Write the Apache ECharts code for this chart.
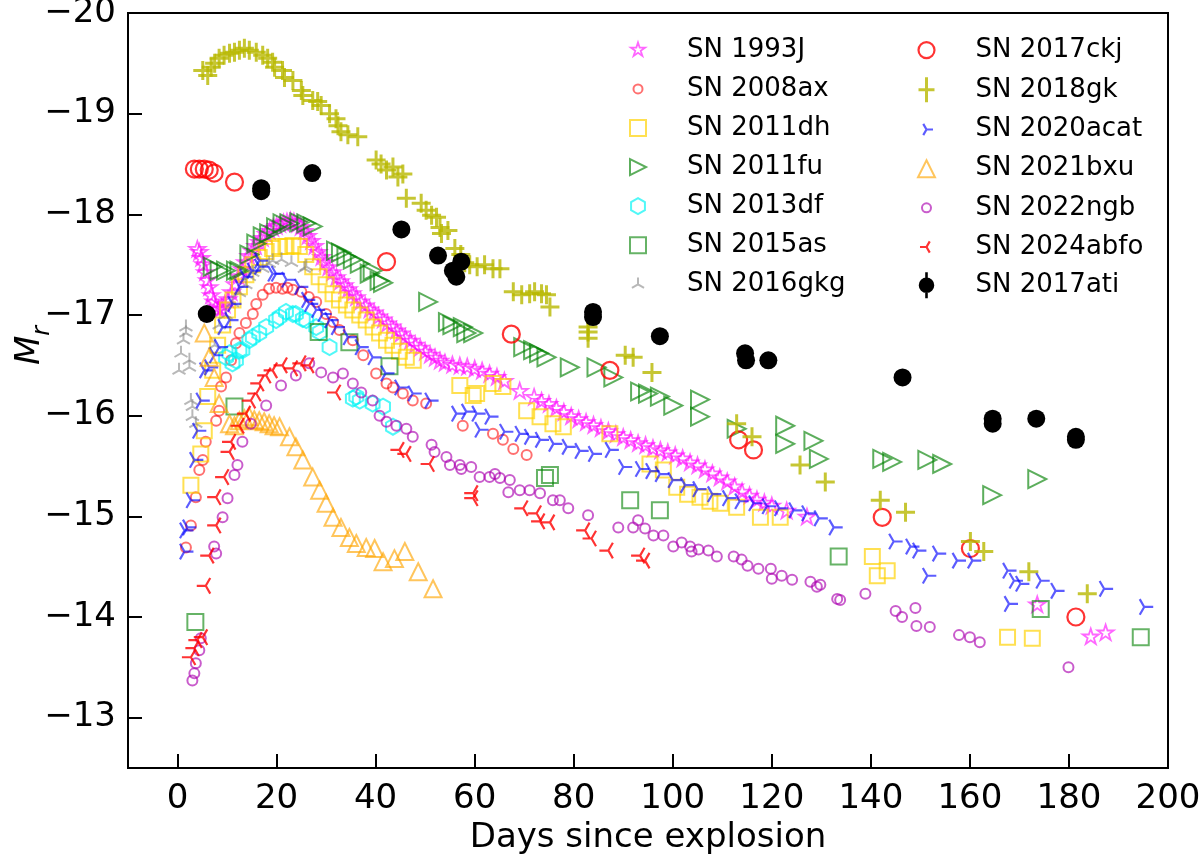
<!DOCTYPE html>
<html>
<head>
<meta charset="utf-8">
<script src="https://cdn.jsdelivr.net/npm/echarts@6/dist/echarts.min.js"></script>
<style>
  html, body { margin: 0; padding: 0; background: #fff; }
  #chart { width: 1200px; height: 857px; }
</style>
</head>
<body>
<div id="chart"></div>
<script>
// light curves, [days since explosion, M_r]
const sn1993J = [[4.0,-17.65],[4.4,-17.62],[4.8,-17.56],[5.2,-17.50],[5.6,-17.42],[6.0,-17.34],[6.4,-17.27],[6.8,-17.19],[7.3,-17.13],[7.8,-17.08],
  [8.3,-17.05],[8.9,-17.06],[9.5,-17.10],[10.2,-17.15],[10.9,-17.22],[11.6,-17.30],[12.3,-17.38],[13.0,-17.45],[13.7,-17.52],[14.4,-17.58],
  [15.1,-17.63],[15.8,-17.68],[16.5,-17.72],[17.2,-17.76],[17.9,-17.80],[18.6,-17.83],[19.3,-17.86],[20.0,-17.88],[20.7,-17.90],[21.4,-17.91],
  [22.1,-17.92],[22.8,-17.93],[23.5,-17.92],[24.2,-17.90],[24.9,-17.87],[25.6,-17.83],[26.3,-17.78],[27.0,-17.73],[27.7,-17.68],[28.4,-17.62],
  [29.1,-17.57],[29.8,-17.52],[30.5,-17.47],[31.3,-17.42],[32.1,-17.37],[32.9,-17.33],[33.7,-17.29],[34.5,-17.25],[35.3,-17.21],[36.1,-17.17],
  [37.0,-17.13],[37.9,-17.09],[38.8,-17.05],[39.7,-17.02],[40.6,-16.98],[41.5,-16.95],[42.4,-16.91],[43.3,-16.88],[44.2,-16.84],[45.1,-16.81],
  [46.0,-16.77],[47.0,-16.74],[48.0,-16.70],[49.0,-16.67],[50.0,-16.63],[51.0,-16.60],[52.0,-16.57],[53.0,-16.54],[54.0,-16.52],[55.5,-16.50],
  [57.0,-16.49],[58.5,-16.48],[60.0,-16.46],[61.5,-16.44],[63.0,-16.41],[64.5,-16.38],[66.0,-16.34],[69.1,-16.24],[72.0,-16.18],[73.5,-16.14],
  [75.0,-16.11],[76.5,-16.07],[78.0,-16.03],[79.5,-15.99],[81.0,-15.96],[82.5,-15.93],[84.0,-15.90],[85.5,-15.87],[87.0,-15.84],[88.5,-15.81],
  [90.0,-15.78],[91.5,-15.75],[93.0,-15.72],[94.5,-15.70],[96.0,-15.67],[97.5,-15.65],[99.0,-15.63],[100.5,-15.60],[102.0,-15.57],[103.5,-15.53],
  [105.0,-15.50],[106.5,-15.46],[108.0,-15.42],[109.5,-15.38],[111.0,-15.34],[112.5,-15.29],[114.0,-15.24],[115.5,-15.20],[117.0,-15.16],[118.5,-15.13],
  [120.0,-15.10],[123.0,-15.05],[127.1,-14.99],[173.6,-14.12],[184.4,-13.80],[187.4,-13.84]];
const sn2008ax = [[1.7,-14.69],[2.7,-14.91],[3.7,-15.19],[4.4,-15.46],[5.1,-15.56],[5.7,-15.74],[7.8,-15.95],[8.4,-16.05],[8.8,-16.29],[9.8,-16.38],
  [10.8,-16.55],[11.8,-16.72],[12.5,-16.82],[13.8,-16.92],[15.2,-17.01],[15.9,-17.11],[17.2,-17.20],[18.5,-17.26],[19.9,-17.27],[21.2,-17.26],
  [22.2,-17.27],[23.3,-17.25],[25.0,-17.23],[26.5,-17.18],[28.0,-17.13],[30.0,-17.01],[31.4,-16.93],[32.7,-16.85],[35.4,-16.75],[37.5,-16.60],
  [40.1,-16.42],[42.2,-16.32],[43.5,-16.28],[45.5,-16.22],[47.5,-16.15],[50.2,-16.12],[57.6,-15.90],[63.7,-15.82],[65.7,-15.76],[67.8,-15.67],[70.5,-15.61]];
const sn2011dh = [[2.7,-15.31],[4.7,-15.62],[5.4,-15.85],[6.1,-16.19],[7.1,-16.45],[8.1,-16.70],[9.1,-16.90],[10.1,-17.05],[11.2,-17.15],[12.5,-17.28],
  [13.8,-17.40],[15.2,-17.50],[16.5,-17.57],[17.9,-17.63],[19.2,-17.66],[20.6,-17.68],[21.9,-17.68],[23.3,-17.69],[24.6,-17.68],[25.9,-17.60],
  [27.3,-17.48],[28.6,-17.38],[30.0,-17.30],[31.4,-17.21],[32.7,-17.15],[34.1,-17.10],[35.4,-17.05],[36.8,-17.00],[38.1,-16.95],[39.5,-16.88],
  [40.8,-16.82],[42.2,-16.75],[43.5,-16.70],[44.8,-16.64],[46.2,-16.58],[47.6,-16.55],[57.0,-16.30],[59.7,-16.20],[60.4,-16.22],[63.7,-16.32],
  [65.7,-16.29],[70.5,-16.05],[73.2,-15.99],[75.8,-15.92],[77.9,-15.89],[87.3,-15.82],[95.4,-15.52],[98.1,-15.46],[100.8,-15.29],[103.0,-15.22],
  [105.5,-15.19],[107.5,-15.15],[109.6,-15.13],[112.9,-15.09],[117.7,-14.99],[121.7,-14.99],[140.3,-14.60],[141.3,-14.41],[143.3,-14.46],[167.6,-13.80],[172.6,-13.79]];
const sn2011fu = [[7.1,-17.48],[8.5,-17.44],[9.8,-17.44],[11.8,-17.44],[12.5,-17.44],[14.5,-17.60],[15.9,-17.71],[17.2,-17.78],[18.5,-17.81],[19.9,-17.87],
  [21.2,-17.91],[22.6,-17.91],[24.6,-17.92],[26.0,-17.91],[27.3,-17.88],[32.0,-17.64],[33.0,-17.62],[34.1,-17.58],[35.4,-17.55],[36.8,-17.51],
  [38.8,-17.41],[39.4,-17.44],[40.8,-17.34],[41.5,-17.32],[50.6,-17.13],[54.6,-16.93],[55.5,-16.90],[57.6,-16.88],[58.3,-16.82],[59.7,-16.82],
  [69.8,-16.68],[71.8,-16.65],[73.0,-16.62],[74.5,-16.58],[79.2,-16.48],[84.6,-16.48],[88.0,-16.38],[93.4,-16.24],[95.0,-16.22],[97.4,-16.19],
  [100.1,-16.10],[105.5,-16.16],[105.5,-15.99],[112.9,-15.87],[122.7,-15.90],[122.7,-15.72],[128.4,-15.75],[129.5,-15.57],[142.3,-15.57],[144.3,-15.54],
  [151.4,-15.56],[154.4,-15.52],[164.5,-15.21],[173.6,-15.37]];
const sn2013df = [[9.8,-16.58],[10.5,-16.62],[11.1,-16.52],[11.8,-16.55],[12.5,-16.65],[13.1,-16.65],[14.5,-16.75],[15.2,-16.78],[16.5,-16.82],[17.9,-16.88],
  [19.9,-16.95],[20.6,-16.98],[21.9,-17.03],[23.3,-17.01],[23.9,-17.01],[25.3,-16.96],[26.0,-16.95],[28.0,-16.88],[28.7,-16.83],[30.7,-16.68],
  [35.4,-16.17],[36.1,-16.19],[36.8,-16.15],[39.4,-16.12],[41.5,-16.09],[43.5,-15.89]];
const sn2015as = [[3.6,-13.95],[11.5,-16.09],[28.5,-16.83],[34.7,-16.73],[42.8,-16.49],[74.2,-15.38],[75.2,-15.41],[91.4,-15.16],[97.4,-15.06],
  [133.5,-14.60],[174.3,-14.08],[194.5,-13.80]];
const sn2016gkg = [[0.3,-16.45],[0.7,-16.62],[1.2,-16.75],[1.7,-16.82],[1.7,-16.88],[2.4,-16.48],[2.4,-16.55],[2.7,-16.15],[3.0,-16.09],[3.0,-15.99],
  [3.7,-15.92],[7.5,-16.70],[8.4,-16.90],[9.8,-17.00],[11.1,-17.12],[12.5,-17.22],[13.8,-17.30],[14.5,-17.38],[15.2,-17.42],[17.2,-17.46],
  [18.5,-17.51],[19.2,-17.54],[21.0,-17.55],[23.0,-17.52],[25.6,-17.46],[26.0,-17.48]];
const sn2017ckj = [[3.4,-18.45],[4.4,-18.45],[5.4,-18.45],[6.4,-18.44],[7.4,-18.41],[11.5,-18.32],[42.2,-17.53],[67.4,-16.81],[87.3,-16.45],
  [113.3,-15.76],[116.3,-15.66],[142.3,-14.99],[160.1,-14.68],[181.4,-14.00]];
const sn2018gk = [[5.1,-19.43],[6.1,-19.38],[6.8,-19.46],[7.5,-19.50],[8.4,-19.55],[9.4,-19.58],[10.5,-19.60],[11.5,-19.61],[12.5,-19.63],[13.5,-19.65],
  [14.5,-19.63],[15.9,-19.61],[17.2,-19.58],[18.2,-19.55],[19.2,-19.51],[19.6,-19.46],[21.2,-19.43],[21.6,-19.36],[23.3,-19.33],[25.0,-19.23],
  [25.3,-19.18],[27.3,-19.13],[28.3,-19.12],[29.0,-19.08],[30.7,-19.00],[32.0,-18.95],[32.4,-18.88],[33.0,-18.82],[34.4,-18.79],[36.4,-18.77],
  [40.1,-18.54],[41.1,-18.50],[42.2,-18.44],[43.5,-18.47],[44.5,-18.37],[45.5,-18.40],[46.2,-18.16],[49.2,-18.11],[50.2,-18.04],[51.3,-17.99],
  [52.3,-17.97],[53.0,-17.87],[53.3,-17.81],[54.6,-17.84],[56.0,-17.66],[57.2,-17.60],[58.0,-17.52],[59.0,-17.50],[60.5,-17.48],[62.0,-17.50],
  [63.7,-17.46],[65.1,-17.46],[67.8,-17.23],[69.5,-17.20],[71.1,-17.21],[72.1,-17.23],[73.5,-17.21],[74.5,-17.20],[75.2,-17.08],[82.9,-16.88],
  [82.9,-16.83],[82.9,-16.77],[90.4,-16.60],[92.0,-16.58],[95.8,-16.43],[112.9,-15.92],[116.0,-15.79],[125.7,-15.51],[130.8,-15.34],[141.9,-15.16],
  [147.0,-15.04],[160.1,-14.75],[162.8,-14.65],[171.9,-14.45],[183.7,-14.23]];
const sn2020acat = [[1.4,-14.65],[1.4,-14.86],[2.0,-14.89],[2.7,-15.16],[3.4,-15.56],[4.0,-15.85],[4.7,-16.15],[5.4,-16.45],[6.4,-16.48],[7.4,-16.60],
  [8.4,-16.68],[9.1,-16.88],[10.5,-16.95],[11.1,-17.11],[12.5,-17.28],[13.5,-17.38],[15.0,-17.44],[16.5,-17.48],[16.5,-17.54],[19.2,-17.41],
  [19.9,-17.41],[22.0,-17.35],[24.6,-17.28],[26.0,-17.15],[26.6,-17.11],[28.0,-17.05],[29.3,-17.01],[30.7,-16.95],[32.0,-16.88],[34.4,-16.78],
  [36.8,-16.68],[39.4,-16.58],[42.0,-16.42],[44.8,-16.28],[47.5,-16.22],[50.9,-16.15],[56.3,-16.02],[58.3,-16.04],[60.4,-16.02],[61.0,-15.86],
  [63.0,-15.99],[66.0,-15.84],[69.1,-15.82],[71.0,-15.79],[73.2,-15.76],[75.9,-15.72],[78.6,-15.69],[81.2,-15.65],[83.9,-15.62],[87.3,-15.66],
  [90.0,-15.49],[93.4,-15.47],[95.5,-15.45],[97.4,-15.42],[100.0,-15.36],[102.5,-15.31],[105.0,-15.27],[108.0,-15.22],[111.0,-15.18],[113.5,-15.15],
  [116.3,-15.13],[119.0,-15.10],[121.5,-15.08],[124.4,-15.06],[127.0,-15.03],[129.5,-14.98],[132.5,-14.89],[144.6,-14.75],[148.0,-14.70],[149.4,-14.66],
  [151.4,-14.41],[153.4,-14.63],[157.4,-14.56],[160.5,-14.56],[167.6,-14.46],[167.9,-14.13],[168.9,-14.36],[170.2,-14.33],[174.3,-14.36],[177.3,-14.26],
  [187.1,-14.28],[195.2,-14.10]];
const sn2021bxu = [[5.4,-16.82],[6.4,-16.58],[7.4,-16.38],[8.4,-16.12],[10.5,-15.92],[11.5,-15.90],[12.5,-15.95],[13.5,-15.97],[14.5,-15.99],[15.5,-15.96],
  [16.5,-15.95],[17.5,-15.94],[18.5,-15.92],[19.5,-15.90],[20.6,-15.89],[22.6,-15.79],[23.9,-15.69],[25.3,-15.56],[27.3,-15.39],[28.7,-15.26],
  [30.0,-15.13],[31.4,-14.99],[33.0,-14.89],[34.7,-14.79],[36.1,-14.73],[38.1,-14.69],[39.8,-14.68],[41.5,-14.55],[43.8,-14.58],[45.9,-14.65],
  [48.6,-14.45],[51.6,-14.28]];
const sn2022ngb = [[3.0,-13.37],[3.4,-13.44],[3.7,-13.54],[4.4,-13.67],[4.7,-13.79],[7.4,-14.70],[7.8,-14.63],[9.1,-14.99],[10.1,-15.18],[11.5,-15.41],
  [12.1,-15.51],[13.1,-15.74],[14.8,-15.92],[17.9,-16.10],[20.9,-16.30],[23.9,-16.40],[26.6,-16.52],[29.0,-16.43],[31.4,-16.38],[33.4,-16.42],
  [35.4,-16.32],[37.1,-16.23],[39.4,-16.15],[40.8,-16.00],[42.2,-15.94],[44.2,-15.90],[46.2,-15.87],[47.5,-15.79],[51.3,-15.71],[51.9,-15.64],
  [54.3,-15.59],[55.0,-15.51],[57.0,-15.51],[57.3,-15.47],[59.3,-15.49],[61.0,-15.39],[63.0,-15.39],[64.1,-15.42],[65.1,-15.38],[66.8,-15.24],
  [67.1,-15.36],[69.1,-15.26],[71.1,-15.26],[73.2,-15.23],[75.8,-15.16],[77.2,-15.16],[78.9,-15.08],[82.9,-15.01],[89.0,-14.89],[92.0,-14.89],
  [93.0,-14.96],[94.4,-14.88],[96.1,-14.81],[98.1,-14.81],[100.1,-14.70],[101.8,-14.74],[103.5,-14.70],[103.8,-14.65],[105.2,-14.67],[107.2,-14.66],
  [108.9,-14.60],[112.3,-14.60],[113.9,-14.57],[115.1,-14.51],[117.3,-14.48],[119.8,-14.48],[120.0,-14.38],[122.0,-14.41],[124.1,-14.37],[127.8,-14.35],
  [129.1,-14.30],[129.8,-14.32],[133.2,-14.18],[133.8,-14.17],[138.9,-14.23],[145.0,-14.06],[146.3,-14.00],[149.0,-14.09],[149.2,-13.91],[151.9,-13.90],
  [157.8,-13.82],[160.0,-13.80],[162.0,-13.75],[179.9,-13.50]];
const sn2024abfo = [[2.7,-13.60],[3.4,-13.69],[4.0,-13.77],[5.1,-13.80],[5.7,-14.31],[6.4,-14.61],[7.8,-14.91],[7.8,-15.19],[9.4,-15.39],[10.5,-15.64],
  [10.8,-15.74],[12.5,-15.90],[13.8,-16.02],[14.8,-16.15],[15.9,-16.22],[16.5,-16.32],[17.9,-16.40],[19.2,-16.45],[21.2,-16.50],[23.3,-16.47],
  [25.0,-16.52],[26.6,-16.50],[32.0,-16.23],[44.8,-15.66],[46.2,-15.62],[50.9,-15.52],[59.7,-15.23],[59.7,-15.18],[69.8,-15.08],[72.5,-15.03],
  [73.2,-14.95],[75.2,-14.94],[82.3,-14.86],[83.6,-14.78],[87.0,-14.66],[93.4,-14.61],[94.4,-14.56]];
const sn2017ati = [[5.9,-17.01],[16.9,-18.26],[16.9,-18.23],[27.2,-18.41],[45.2,-17.85],[52.6,-17.59],[55.6,-17.44],[56.3,-17.38],[57.3,-17.53],
  [83.9,-17.03],[83.9,-16.98],[97.4,-16.79],[114.6,-16.62],[114.8,-16.55],[119.3,-16.55],[146.4,-16.38],[164.6,-15.97],[164.6,-15.92],
  [173.4,-15.97],[181.4,-15.79],[181.4,-15.76]];

const FONT = 'DejaVu Sans';

// marker outlines in a -1..1 box
const STAR = 'M0,-1 L0.2245,-0.309 L0.951,-0.309 L0.363,0.118 L0.588,0.809 L0,0.382 L-0.588,0.809 L-0.363,0.118 L-0.951,-0.309 L-0.2245,-0.309 Z';
const CIRC = 'M-1,0 A1,1 0 1,1 1,0 A1,1 0 1,1 -1,0 Z';
const SQR = 'M-1,-1 L1,-1 L1,1 L-1,1 Z';
const TRI_R = 'M1,0 L-1,1 L-1,-1 Z';
const TRI_U = 'M0,-1 L1,1 L-1,1 Z';
const HEX = 'M0,-1 L0.866,-0.5 L0.866,0.5 L0,1 L-0.866,0.5 L-0.866,-0.5 Z';
const Y_UP = 'M0,0 L0,-1 M0,0 L-0.866,0.5 M0,0 L0.866,0.5';
const Y_RIGHT = 'M0,0 L1,0 M0,0 L-0.5,0.866 M0,0 L-0.5,-0.866';
const Y_LEFT = 'M0,0 L-1,0 M0,0 L0.5,0.866 M0,0 L0.5,-0.866';
const PLUS = 'M-1,0 L1,0 M0,-1 L0,1';
const PLUS_TALL = 'M-0.64,0 L0.64,0 M0,-1 L0,1';
const DOT_BAR = 'M-0.1,-1 L0.1,-1 L0.1,1 L-0.1,1 Z M-0.6,0 A0.6,0.6 0 1,1 0.6,0 A0.6,0.6 0 1,1 -0.6,0 Z';

// pad the path box so every marker stays centred
function sym(p, r) {
  r = r || 1;
  return 'path://M' + (-r) + ',' + (-r) + ' M' + r + ',' + r + ' ' + p;
}

const list = [
  // name, data, shape, size, colour, filled, line width, legend pad
  ['SN 1993J', sn1993J, STAR, 17, 'rgba(255,0,255,0.75)', false, 1.8, 1.87],
  ['SN 2008ax', sn2008ax, CIRC, 10, 'rgba(255,0,0,0.7)', false, 2, 3.1],
  ['SN 2011dh', sn2011dh, SQR, 15, 'rgba(255,210,0,0.85)', false, 2, 1.75],
  ['SN 2011fu', sn2011fu, TRI_R, 18, 'rgba(0,128,0,0.8)', false, 2, 1.75],
  ['SN 2013df', sn2013df, HEX, 16, 'rgba(0,245,245,0.85)', false, 2, 1.75],
  ['SN 2015as', sn2015as, SQR, 16, 'rgba(0,128,0,0.75)', false, 2, 1.75],
  ['SN 2016gkg', sn2016gkg, Y_UP, 15, 'rgba(128,128,128,0.7)', false, 2, 2.0],
  ['SN 2017ckj', sn2017ckj, CIRC, 17, '#ff0000', false, 2.2, 1.75],
  ['SN 2018gk', sn2018gk, PLUS, 19, '#b8b800', false, 3, 1.12],
  ['SN 2020acat', sn2020acat, Y_RIGHT, 18, 'rgba(0,0,255,0.8)', false, 2.2, 2.15],
  ['SN 2021bxu', sn2021bxu, TRI_U, 17, 'rgba(255,165,0,0.8)', false, 2, 1.65],
  ['SN 2022ngb', sn2022ngb, CIRC, 10, 'rgba(170,0,175,0.8)', false, 2, 3.1],
  ['SN 2024abfo', sn2024abfo, Y_LEFT, 18, '#ff0000', false, 2.2, 2.15],
  ['SN 2017ati', sn2017ati, CIRC, 18, '#000000', true, 0, 1.08]
];

const series = list.map(s => ({
  name: s[0],
  type: 'scatter',
  data: s[1],
  symbol: sym(s[2]),
  symbolSize: s[3],
  itemStyle: s[5] ? { color: s[4], opacity: 1 } : { color: 'transparent', borderColor: s[4], borderWidth: s[6] },
  emphasis: { disabled: true },
  silent: true
}));

function legendItems(from, to) {
  return list.slice(from, to).map(s => {
    let p = s[2];
    if (s[0] === 'SN 2018gk') p = PLUS_TALL;
    if (s[0] === 'SN 2017ati') p = DOT_BAR;
    return { name: s[0], icon: sym(p, s[7]), itemStyle: { borderWidth: s[5] ? 0 : s[6] } };
  });
}

// legend content starts at the icon's left edge (icon box is 28 wide)
const legendBase = {
  orient: 'vertical', top: 35, itemWidth: 88, itemHeight: 28, itemGap: 9.1,
  padding: 0, selectedMode: false,
  textStyle: { fontFamily: FONT, fontSize: 26, color: '#000', lineHeight: 28 }
};

const chart = echarts.init(document.getElementById('chart'));
chart.setOption({
  animation: false,
  backgroundColor: '#fff',
  grid: { left: 128, right: 32, top: 13, bottom: 89, show: true, borderColor: '#000', borderWidth: 2,
    outerBoundsMode: 'none', containLabel: false },
  legend: [
    Object.assign({}, legendBase, { left: 623, data: legendItems(0, 7) }),
    Object.assign({}, legendBase, { left: 911, data: legendItems(7, 14) })
  ],
  xAxis: {
    type: 'value', min: -10, max: 200, splitNumber: 10,
    name: 'Days since explosion', nameLocation: 'middle', nameGap: 44,
    nameTextStyle: { fontFamily: FONT, fontSize: 34, color: '#000' },
    axisLine: { onZero: false, lineStyle: { color: '#000', width: 2 } },
    axisTick: { inside: true, length: 14, lineStyle: { color: '#000', width: 2 } },
    axisLabel: { fontFamily: FONT, fontSize: 34, color: '#000', margin: 14,
      formatter: v => (v < 0 ? '' : String(v)) },
    splitLine: { show: false }
  },
  yAxis: {
    type: 'value', min: -20, max: -12.5, interval: 1, inverse: true,
    name: '{i|M}{s|r}', nameLocation: 'middle', nameGap: 73, nameMoveOverlap: false,
    nameTextStyle: {
      fontFamily: FONT, color: '#000', padding: [0, 0, 0, 90],
      rich: {
        i: { fontFamily: FONT, fontStyle: 'italic', fontSize: 34, lineHeight: 50, verticalAlign: 'middle', color: '#000' },
        s: { fontFamily: FONT, fontStyle: 'italic', fontSize: 24, lineHeight: 24, verticalAlign: 'bottom', color: '#000' }
      }
    },
    axisLine: { onZero: false, lineStyle: { color: '#000', width: 2 } },
    axisTick: { inside: true, length: 14, lineStyle: { color: '#000', width: 2 } },
    axisLabel: { fontFamily: FONT, fontSize: 34, color: '#000', margin: 12,
      formatter: v => (Number.isInteger(v) ? '\u2212' + Math.abs(v) : '') },
    splitLine: { show: false }
  },
  series: series
});
window.onresize = function () { chart.resize(); };
</script>
</body>
</html>
